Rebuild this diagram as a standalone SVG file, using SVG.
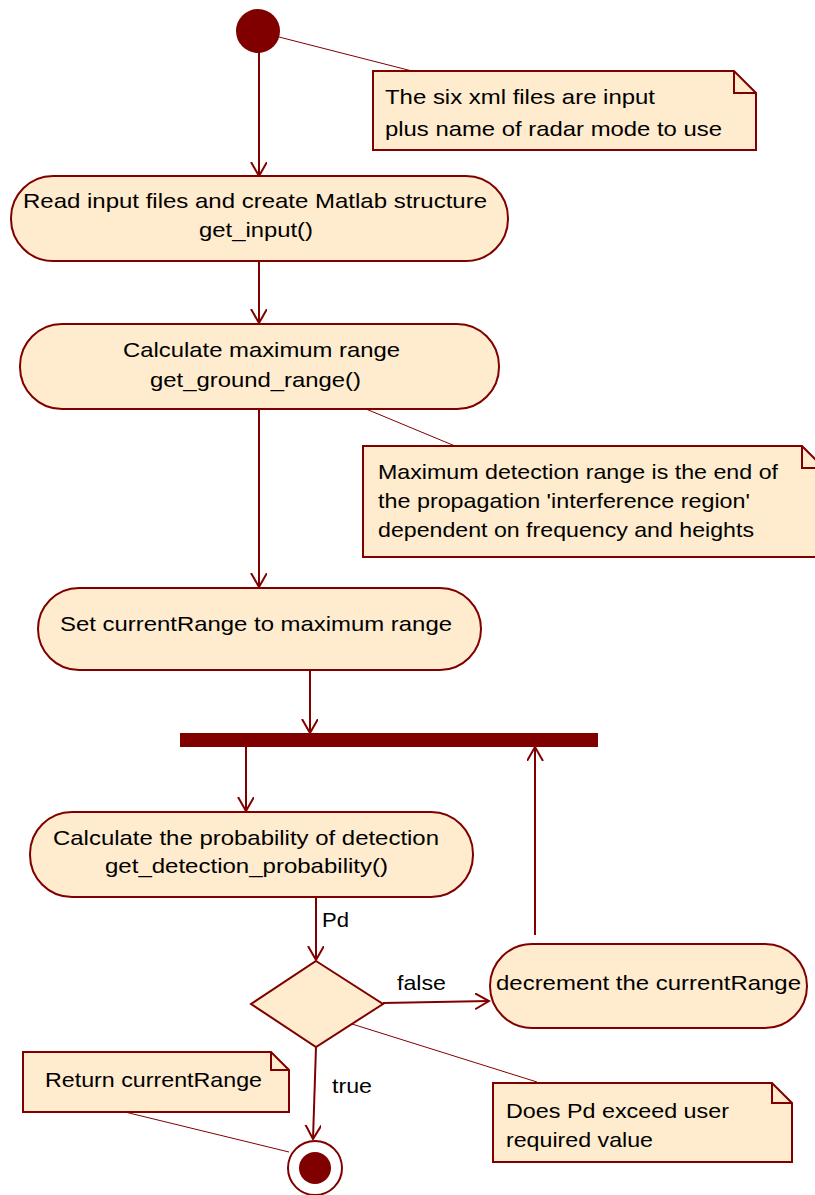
<svg xmlns="http://www.w3.org/2000/svg" width="815" height="1195" viewBox="0 0 815 1195">
<style>
.n{fill:#FFEBCD;stroke:#800000;stroke-width:2}
.note{fill:#FFEBCD;stroke:#800000;stroke-width:2}
.t{font-family:"Liberation Sans",Arial,sans-serif;font-size:21px;fill:#000}
.c{stroke:#800000;stroke-width:2;fill:none}
.d{stroke:#800000;stroke-width:1;fill:none}
</style>
<defs>
<marker id="a" markerWidth="20" markerHeight="20" refX="14" refY="8" orient="auto" markerUnits="userSpaceOnUse">
<path d="M0,0 L14,8 L0,16" fill="none" stroke="#800000" stroke-width="2"/>
</marker>
</defs>
<rect width="815" height="1195" fill="#fff"/>
<g id="connectors">
<line class="c" x1="259" y1="52" x2="259" y2="176" marker-end="url(#a)"/>
<line class="c" x1="259" y1="261" x2="259" y2="323" marker-end="url(#a)"/>
<line class="c" x1="259" y1="409" x2="259" y2="587" marker-end="url(#a)"/>
<line class="c" x1="310" y1="670" x2="310" y2="733" marker-end="url(#a)"/>
<line class="c" x1="246" y1="747" x2="246" y2="811" marker-end="url(#a)"/>
<line class="c" x1="535" y1="935" x2="535" y2="747" marker-end="url(#a)"/>
<line class="c" x1="316" y1="897" x2="316" y2="960" marker-end="url(#a)"/>
<line class="c" x1="383" y1="1003" x2="489" y2="1001" marker-end="url(#a)"/>
<line class="c" x1="316" y1="1047" x2="313" y2="1139" marker-end="url(#a)"/>
<line class="d" x1="279" y1="37" x2="412" y2="71"/>
<line class="d" x1="366" y1="409" x2="455" y2="446"/>
<line class="d" x1="352" y1="1024" x2="537" y2="1082"/>
<line class="d" x1="125" y1="1112" x2="289" y2="1152"/>
<text class="t" x="322" y="927" textLength="27" lengthAdjust="spacingAndGlyphs">Pd</text>
<text class="t" x="397" y="990" textLength="49" lengthAdjust="spacingAndGlyphs">false</text>
<text class="t" x="332" y="1093" textLength="40" lengthAdjust="spacingAndGlyphs">true</text>
</g>
<g id="start"><circle cx="258" cy="31" r="22" fill="#800000"/></g>
<g id="note1">
<path class="note" d="M373,71 H734 L756,93 V150 H373 Z"/>
<path class="c" d="M734,71 V93 H756"/>
<text class="t" x="385" y="104" textLength="270" lengthAdjust="spacingAndGlyphs">The six xml files are input</text>
<text class="t" x="385" y="136" textLength="337" lengthAdjust="spacingAndGlyphs">plus name of radar mode to use</text>
</g>
<g id="read">
<rect class="n" x="11" y="176" width="497" height="85" rx="42"/>
<text class="t" x="23" y="208" textLength="464" lengthAdjust="spacingAndGlyphs">Read input files and create Matlab structure</text>
<text class="t" x="199" y="237" textLength="114" lengthAdjust="spacingAndGlyphs">get_input()</text>
</g>
<g id="maxrange">
<rect class="n" x="20" y="324" width="479" height="85" rx="42"/>
<text class="t" x="123" y="357" textLength="277" lengthAdjust="spacingAndGlyphs">Calculate maximum range</text>
<text class="t" x="150" y="387" textLength="211" lengthAdjust="spacingAndGlyphs">get_ground_range()</text>
</g>
<g id="note2">
<path class="note" d="M363,446 H802 L824,468 V557 H363 Z"/>
<path class="c" d="M802,446 V468 H824"/>
<text class="t" x="378" y="479" textLength="400" lengthAdjust="spacingAndGlyphs">Maximum detection range is the end of</text>
<text class="t" x="378" y="508" textLength="372" lengthAdjust="spacingAndGlyphs">the propagation 'interference region'</text>
<text class="t" x="378" y="537" textLength="376" lengthAdjust="spacingAndGlyphs">dependent on frequency and heights</text>
</g>
<g id="setrange">
<rect class="n" x="38" y="588" width="443" height="82" rx="41"/>
<text class="t" x="60" y="631" textLength="392" lengthAdjust="spacingAndGlyphs">Set currentRange to maximum range</text>
</g>
<g id="fork"><rect x="180" y="733" width="418" height="14" fill="#800000"/></g>
<g id="prob">
<rect class="n" x="30" y="812" width="443" height="85" rx="42"/>
<text class="t" x="53" y="845" textLength="386" lengthAdjust="spacingAndGlyphs">Calculate the probability of detection</text>
<text class="t" x="105" y="873" textLength="283" lengthAdjust="spacingAndGlyphs">get_detection_probability()</text>
</g>
<g id="decision"><path class="n" d="M316,961 L383,1004 L316,1047 L251,1004 Z"/></g>
<g id="decrement">
<rect class="n" x="490" y="944" width="317" height="84" rx="42"/>
<text class="t" x="496" y="990" textLength="305" lengthAdjust="spacingAndGlyphs">decrement the currentRange</text>
</g>
<g id="note3">
<path class="note" d="M493,1083 H772 L792,1103 V1162 H493 Z"/>
<path class="c" d="M772,1083 V1103 H792"/>
<text class="t" x="506" y="1118" textLength="223" lengthAdjust="spacingAndGlyphs">Does Pd exceed user</text>
<text class="t" x="506" y="1147" textLength="147" lengthAdjust="spacingAndGlyphs">required value</text>
</g>
<g id="note4">
<path class="note" d="M23,1052 H271 L289,1070 V1112 H23 Z"/>
<path class="c" d="M271,1052 V1070 H289"/>
<text class="t" x="45" y="1087" textLength="217" lengthAdjust="spacingAndGlyphs">Return currentRange</text>
</g>
<g id="end">
<circle cx="315" cy="1168" r="27" fill="#fff" stroke="#800000" stroke-width="2"/>
<circle cx="315" cy="1168" r="16" fill="#800000"/>
</g>
</svg>
